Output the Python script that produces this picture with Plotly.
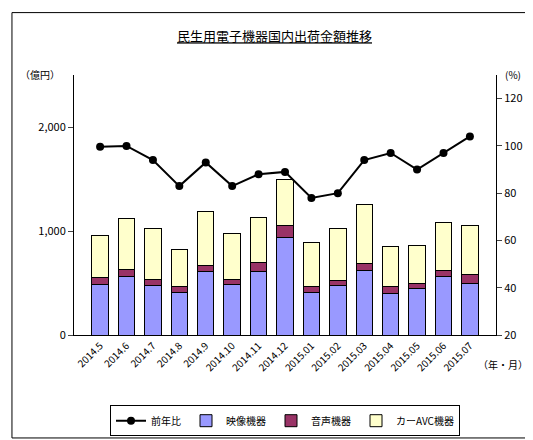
import plotly.graph_objects as go

months = ["2014.5", "2014.6", "2014.7", "2014.8", "2014.9", "2014.10", "2014.11", "2014.12",
          "2015.01", "2015.02", "2015.03", "2015.04", "2015.05", "2015.06", "2015.07"]
video = [481, 566, 472, 406, 613, 481, 613, 934, 406, 472, 623, 396, 443, 566, 491]
audio = [76, 66, 66, 56, 57, 57, 85, 123, 56, 56, 66, 66, 57, 57, 94]
car_avc = [396, 491, 490, 359, 519, 434, 434, 443, 425, 500, 566, 387, 358, 462, 472]
yoy = [99.6, 100, 94, 83, 93, 83, 88, 89, 78, 80, 94, 97, 90, 97, 104]

FONT = "Noto Sans CJK JP"
fig = go.Figure()
fig.add_trace(go.Bar(x=months, y=video, name="映像機器", legendrank=3,
                     marker=dict(color="#9999ff", line=dict(color="black", width=1))))
fig.add_trace(go.Bar(x=months, y=audio, name="音声機器", legendrank=2,
                     marker=dict(color="#993366", line=dict(color="black", width=1))))
fig.add_trace(go.Bar(x=months, y=car_avc, name="カーAVC機器", legendrank=1,
                     marker=dict(color="#ffffcc", line=dict(color="black", width=1))))
fig.add_trace(go.Scatter(x=months, y=yoy, name="前年比", yaxis="y2", mode="lines+markers", legendrank=4,
                         line=dict(color="black", width=2), marker=dict(size=8, color="black")))

fig.update_layout(
    width=533, height=440, barmode="stack", bargap=0.38,
    paper_bgcolor="white", plot_bgcolor="white",
    font=dict(family=FONT, size=11, color="black"),
    margin=dict(l=66, r=45, t=67, b=108),
    title=dict(text="<u>民生用電子機器国内出荷金額推移</u>", x=0.5, y=0.945, xanchor="center", font=dict(size=13)),
    xaxis=dict(tickangle=-45, showline=True, linecolor="black", ticks="", tickfont=dict(size=10)),
    yaxis=dict(range=[0, 2500], tickvals=[0, 1000, 2000], ticktext=["0", "1,000", "2,000"],
               showline=True, linecolor="black", ticks="outside", showgrid=False, zeroline=False),
    yaxis2=dict(range=[20, 130], tickvals=[20, 40, 60, 80, 100, 120], overlaying="y", side="right",
                showline=True, linecolor="black", ticks="outside", showgrid=False),
    legend=dict(orientation="h", x=0.5, xanchor="center", y=-0.27, yanchor="top",
                bordercolor="black", borderwidth=1, font=dict(size=10)),
    annotations=[
        dict(text="（億円）", xref="paper", yref="paper", x=-0.08, y=1.04, showarrow=False, xanchor="center", font=dict(size=10)),
        dict(text="(%)", xref="paper", yref="paper", x=1.04, y=1.04, showarrow=False, xanchor="center", font=dict(size=10)),
        dict(text="（年・月）", xref="paper", yref="paper", x=1.08, y=-0.15, showarrow=False, xanchor="right", font=dict(size=10)),
    ],
    shapes=[dict(type="rect", xref="paper", yref="paper", x0=-0.147, x1=1.10, y0=-0.396, y1=1.24,
                 line=dict(color="black", width=1))],
)
fig.write_html("out.html")
